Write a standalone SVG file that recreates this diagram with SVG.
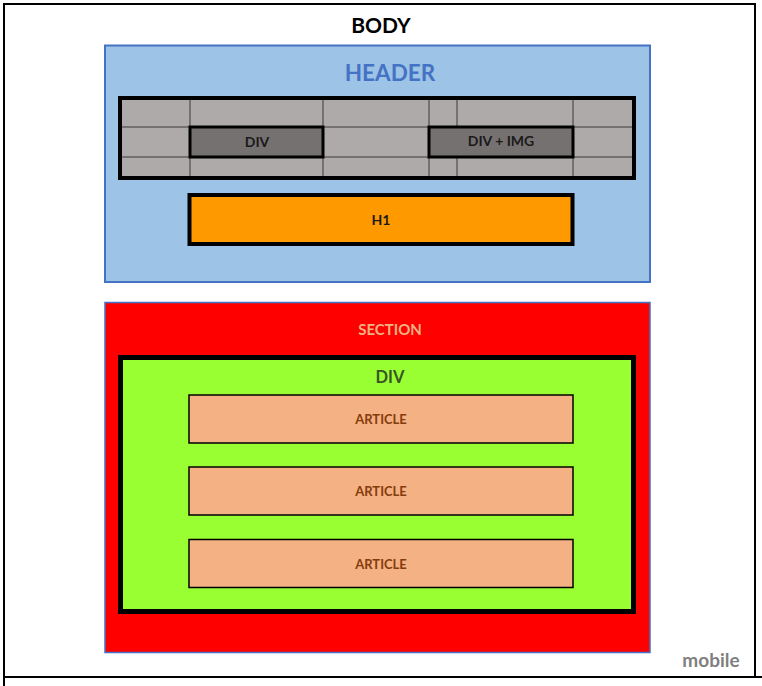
<svg xmlns="http://www.w3.org/2000/svg" width="762" height="686" viewBox="0 0 762 686">
  <style>
    text { font-family: Lato, "Open Sans", "Liberation Sans", sans-serif; font-weight: bold; text-anchor: middle; dominant-baseline: central; }
    .cell { fill: #AEAAAA; }
    .gridline { stroke: #3A3838; stroke-width: 1; }
    .thick { stroke: #000; stroke-width: 4; }
    .article { fill: #F4B183; stroke: #000; stroke-width: 1.5; }
    .article-label { fill: #843C0C; font-size: 13px; }
  </style>

  <!-- page background -->
  <rect x="0" y="0" width="762" height="686" fill="#fff"/>

  <!-- body frame -->
  <g id="body">
    <rect x="4" y="4" width="751" height="673" fill="#fff" stroke="#000" stroke-width="2"/>
    <line x1="4" y1="677" x2="762" y2="677" stroke="#000" stroke-width="2"/>
    <line x1="4" y1="677" x2="4" y2="686" stroke="#000" stroke-width="2"/>
    <text x="381" y="24" font-size="21" fill="#000">BODY</text>
  </g>

  <!-- header block -->
  <g id="header">
    <rect x="105" y="45.5" width="545" height="236.5" fill="#9DC3E6" stroke="#4472C4" stroke-width="2"/>
    <text x="390" y="72" font-size="22.5" fill="#4472C4">HEADER</text>
  </g>

  <!-- navigation grid -->
  <g id="nav-grid">
    <rect class="cell" x="120" y="98" width="514" height="80"/>
    <line class="gridline" x1="120" y1="127" x2="634" y2="127"/>
    <line class="gridline" x1="120" y1="157" x2="634" y2="157"/>
    <line class="gridline" x1="190" y1="98" x2="190" y2="178"/>
    <line class="gridline" x1="323" y1="98" x2="323" y2="178"/>
    <line class="gridline" x1="429" y1="98" x2="429" y2="178"/>
    <line class="gridline" x1="457" y1="98" x2="457" y2="178"/>
    <line class="gridline" x1="573" y1="98" x2="573" y2="178"/>
    <rect x="120" y="98" width="514" height="80" fill="none" class="thick"/>
  </g>

  <g id="nav-div">
    <rect x="190" y="127" width="133" height="30" fill="#767171" stroke="#000" stroke-width="3"/>
    <text x="257" y="141.5" font-size="14" fill="#1A1A1A">DIV</text>
  </g>

  <g id="nav-div-img">
    <rect x="429" y="127" width="144" height="30" fill="#767171" stroke="#000" stroke-width="3"/>
    <text x="501" y="140.5" font-size="14" fill="#1A1A1A">DIV + IMG</text>
  </g>

  <g id="h1">
    <rect x="189.5" y="195" width="383" height="49" fill="#FF9900" stroke="#000" stroke-width="4"/>
    <text x="381" y="219.5" font-size="14" fill="#1A1A1A">H1</text>
  </g>

  <!-- section block -->
  <g id="section">
    <rect x="105" y="302.5" width="545" height="350" fill="#FF0000" stroke="#4472C4" stroke-width="1.5"/>
    <text x="390" y="329" font-size="15" fill="#F4B183">SECTION</text>
  </g>

  <g id="section-div">
    <rect x="120.5" y="357.5" width="513" height="254" fill="#99FF33" stroke="#000" stroke-width="5"/>
    <text x="390" y="376.5" font-size="16.5" fill="#375623">DIV</text>
  </g>

  <g id="article-1">
    <rect class="article" x="189" y="395" width="384" height="48"/>
    <text class="article-label" x="381" y="418.5">ARTICLE</text>
  </g>
  <g id="article-2">
    <rect class="article" x="189" y="467" width="384" height="48"/>
    <text class="article-label" x="381" y="490.5">ARTICLE</text>
  </g>
  <g id="article-3">
    <rect class="article" x="189" y="539.5" width="384" height="48"/>
    <text class="article-label" x="381" y="563.5">ARTICLE</text>
  </g>

  <g id="connectors"></g>

  <text x="711" y="659" font-size="19" fill="#7F7F7F">mobile</text>
</svg>
